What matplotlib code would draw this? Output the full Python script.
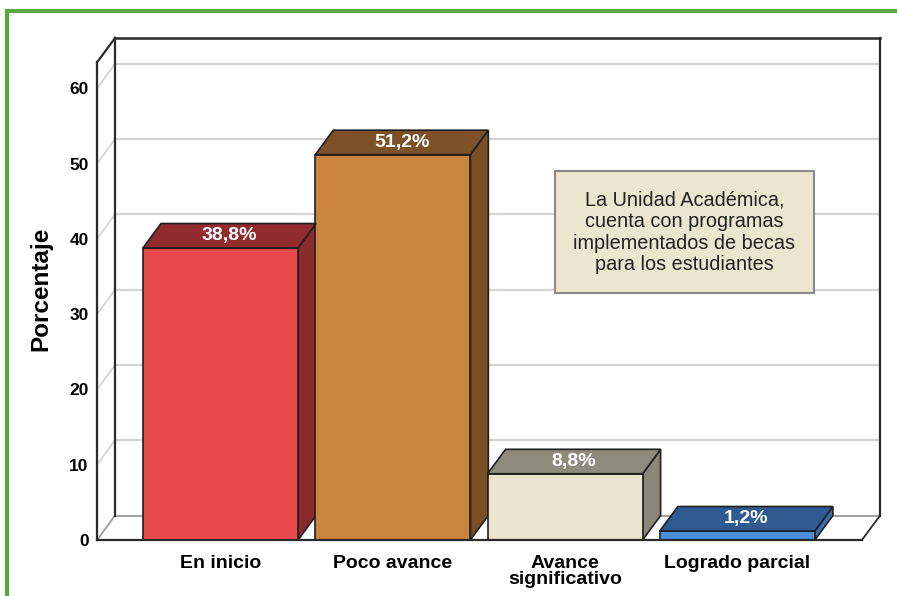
import matplotlib
matplotlib.use("Agg")
import matplotlib.pyplot as plt
from matplotlib.patches import Polygon
from matplotlib.lines import Line2D

categories = ["En inicio", "Poco avance", "Avance\nsignificativo", "Logrado parcial"]
values = [38.8, 51.2, 8.8, 1.2]
bar_labels = ["38,8%", "51,2%", "8,8%", "1,2%"]
yticks = [0, 10, 20, 30, 40, 50, 60]
note = "La Unidad Académica,\ncuenta con programas\nimplementados de becas\npara los estudiantes"

front_cols = ["#EA4A4C", "#CB853F", "#EAE3CE", "#4A90DC"]
top_cols = ["#912B2E", "#7C5128", "#8E8B7C", "#2F5B92"]
side_cols = ["#8A2A2C", "#7A4F26", "#8A877A", "#3A6DB0"]

plt.rcParams["font.family"] = ["Liberation Sans", "DejaVu Sans"]

W, H = 897, 596
fig = plt.figure(figsize=(W / 100, H / 100), dpi=100)
fig.patch.set_facecolor("white")

# plot area = front plane of the 3D box
ax = fig.add_axes([97 / W, 56 / H, (880 - 97) / W, (540 - 38) / H])
x0, x1 = -0.717, 3.828
ax.set_xlim(x0, x1)
ax.set_ylim(0, 66.7)
for s in ax.spines.values():
    s.set_visible(False)
ax.patch.set_alpha(0)

dx, dy = 0.1045, 3.25       # depth offset of the box
ytop = 63.45
xr = 3.723                  # front right end of floor
grid = "#d4d4d4"
frame = "#2a2a2a"
kw = dict(clip_on=False)

# back wall gridlines + left wall diagonals
for t in yticks[1:]:
    ax.plot([x0 + dx, x1], [t + dy, t + dy], color=grid, lw=1.6, zorder=1, **kw)
    ax.plot([x0, x0 + dx], [t, t + dy], color=grid, lw=1.3, zorder=1, **kw)
# floor
ax.plot([x0 + dx, x1], [dy, dy], color="#9a9a9a", lw=1.3, zorder=1, **kw)
ax.plot([x0, x0 + dx], [0, dy], color="#9a9a9a", lw=1.3, zorder=1, **kw)
ax.plot([xr, x1], [0, dy], color=frame, lw=1.3, zorder=1, **kw)
ax.plot([x0, xr], [0, 0], color=frame, lw=1.6, zorder=5, **kw)
# frame of the box
ax.plot([x0 + dx, x0 + dx], [dy, ytop + dy], color=frame, lw=1.6, zorder=1, **kw)
ax.plot([x1, x1], [dy, ytop + dy], color=frame, lw=1.6, zorder=1, **kw)
ax.plot([x0 + dx, x1], [ytop + dy, ytop + dy], color=frame, lw=1.8, zorder=1, **kw)
ax.plot([x0, x0 + dx], [ytop, ytop + dy], color=frame, lw=1.6, zorder=1, **kw)
ax.plot([x0, x0], [0, ytop], color=frame, lw=1.6, zorder=1, **kw)

# 3D bars
bw = 0.90
xs = list(range(len(values)))
ax.bar(xs, values, width=bw, color=front_cols, edgecolor="#1e1e1e", lw=1.2, zorder=3)
for i, v in enumerate(values):
    l, r = i - bw / 2, i + bw / 2
    top = Polygon([(l, v), (r, v), (r + dx, v + dy), (l + dx, v + dy)],
                  closed=True, fc=top_cols[i], ec="#1e1e1e", lw=1.2, zorder=3, **kw)
    side = Polygon([(r, 0), (r + dx, dy), (r + dx, v + dy), (r, v)],
                   closed=True, fc=side_cols[i], ec="#1e1e1e", lw=1.2, zorder=2.9, **kw)
    ax.add_patch(side)
    ax.add_patch(top)
    ax.text(i + dx / 2, v + dy / 2, bar_labels[i], ha="center", va="center",
            color="white", fontsize=14, fontweight="bold", zorder=6)

ax.set_yticks(yticks)
ax.set_yticklabels([str(t) for t in yticks], fontsize=12.5, fontweight="bold")
ax.set_xticks(xs)
ax.set_xticklabels(categories, fontsize=14, fontweight="bold", linespacing=0.9)
ax.tick_params(axis="y", length=0, pad=6)
ax.tick_params(axis="x", length=0, pad=11)
ax.set_ylabel("Porcentaje", fontsize=17.5, fontweight="bold", labelpad=12)

ax.text(2.693, 40.9, note, ha="center", va="center", fontsize=14.3, linespacing=1.18,
        color="#222222", zorder=7,
        bbox=dict(boxstyle="square,pad=0.95", fc="#ECE5D0", ec="#8a8a8a", lw=1.5))

# green frame around the figure
g = "#5BA63F"
fig.add_artist(Line2D([7 / W, 7 / W], [0, 1 - 11 / H], color=g, lw=3, transform=fig.transFigure))
fig.add_artist(Line2D([7 / W, 1], [1 - 11 / H, 1 - 11 / H], color=g, lw=3, transform=fig.transFigure))

fig.savefig("out.png", dpi=100)
